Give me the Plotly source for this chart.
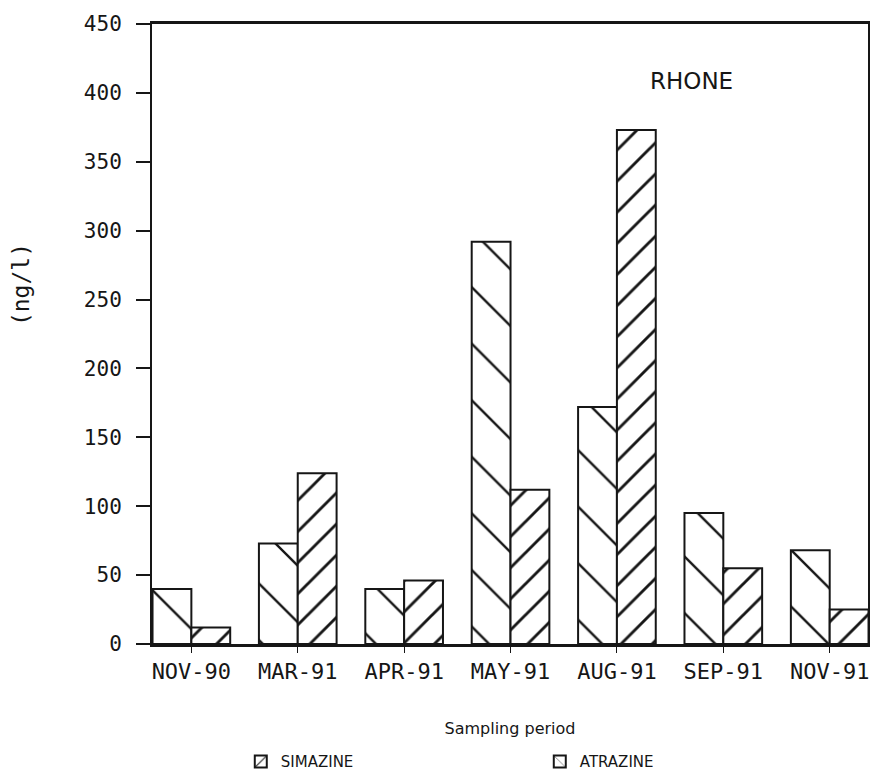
import plotly.graph_objects as go

# Sampling campaigns on the Rhone
periods = ["NOV-90", "MAR-91", "APR-91", "MAY-91", "AUG-91", "SEP-91", "NOV-91"]

# Herbicide concentrations (ng/l)
atrazine = [40, 73, 40, 292, 172, 95, 68]
simazine = [12, 124, 46, 112, 373, 55, 25]

y_ticks = [0, 50, 100, 150, 200, 250, 300, 350, 400, 450]

INK = "#161616"
MONO = "DejaVu Sans Mono"
SANS = "DejaVu Sans"

fig = go.Figure()

fig.add_trace(go.Bar(
    name="ATRAZINE",
    x=periods,
    y=atrazine,
    legendrank=2,
    marker=dict(
        color="white",
        line=dict(color=INK, width=2),
        pattern=dict(shape="\\", size=40, solidity=0.06, fgopacity=1,
                     fgcolor=INK, bgcolor="white", fillmode="replace"),
    ),
))

fig.add_trace(go.Bar(
    name="SIMAZINE",
    x=periods,
    y=simazine,
    legendrank=1,
    marker=dict(
        color="white",
        line=dict(color=INK, width=2),
        pattern=dict(shape="/", size=22, solidity=0.13, fgopacity=1,
                     fgcolor=INK, bgcolor="white", fillmode="replace"),
    ),
))

# Station name inside the plot
fig.add_annotation(
    text="RHONE", xref="paper", yref="paper",
    x=0.753, y=0.908, xanchor="center", yanchor="middle", showarrow=False,
    font=dict(family=SANS, size=23, color=INK),
)

# Vertical unit label, placed a little above mid-height
fig.add_annotation(
    text="(ng/l)", xref="paper", yref="paper",
    x=-0.182, y=0.58, xanchor="center", yanchor="middle", showarrow=False,
    textangle=-90,
    font=dict(family=MONO, size=23, color=INK),
)

fig.update_layout(
    width=876, height=778,
    margin=dict(l=152, r=8, t=24, b=134, autoexpand=False),
    paper_bgcolor="white", plot_bgcolor="white",
    barmode="group", bargap=0.27, bargroupgap=0,
    font=dict(family=MONO, color=INK),
    showlegend=True,
    legend=dict(
        orientation="h", x=0.124, y=-0.19, xanchor="left", yanchor="middle",
        entrywidth=254, entrywidthmode="pixels",
        font=dict(family=SANS, size=15, color=INK),
    ),
)

fig.update_xaxes(
    type="category",
    range=[-0.37, 6.36],
    showline=True, linecolor=INK, linewidth=2.5, mirror=True,
    ticks="outside", ticklen=6, tickwidth=1, tickcolor=INK,
    tickfont=dict(family=MONO, size=22, color=INK),
    ticklabelstandoff=0,
    showgrid=False, zeroline=False,
    title=dict(text="Sampling period",
               font=dict(family=SANS, size=16, color=INK),
               standoff=40),
)

fig.update_yaxes(
    range=[0, 450],
    tickvals=y_ticks,
    showline=True, linecolor=INK, linewidth=2, mirror=True,
    ticks="outside", ticklen=14, tickwidth=2, tickcolor=INK,
    tickfont=dict(family=MONO, size=21, color=INK),
    ticklabelstandoff=10,
    showgrid=False, zeroline=False,
)

fig.write_html("out.html")
